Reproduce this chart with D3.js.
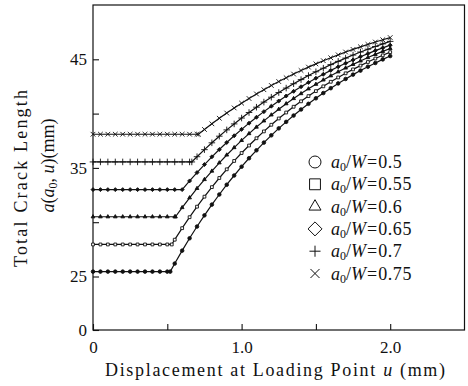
<!DOCTYPE html>
<html>
<head>
<meta charset="utf-8">
<script src="https://cdn.jsdelivr.net/npm/d3@7"></script>
<style>
body{margin:0;background:#fff;}
svg{display:block;font-family:"Liberation Serif","DejaVu Serif",serif;}
</style>
</head>
<body>
<div id="chart"></div>
<script>
// displacement at loading point u (mm), shared by every curve
var uGrid = [0,0.05,0.1,0.15,0.2,0.25,0.3,0.35,0.4,0.45,0.5,0.55,0.6,0.65,0.7,0.75,0.8,0.85,0.9,0.95,
             1,1.05,1.1,1.15,1.2,1.25,1.3,1.35,1.4,1.45,1.5,1.55,1.6,1.65,1.7,1.75,1.8,1.85,1.9,1.95,2];

var ratios = ["0.5","0.55","0.6","0.65","0.7","0.75"];
// u where each crack starts to grow
var kneeU  = [0.52,0.53,0.555,0.60,0.665,0.71];

// total crack length a(a0,u) in mm on uGrid
var crack050 = [25.45,25.45,25.45,25.45,25.45,25.45,25.45,25.45,25.45,25.45,25.45,
  26.19,27.38,28.52,29.60,30.63,31.62,32.55,33.45,34.30,35.11,35.89,36.62,37.33,38.00,
  38.64,39.24,39.82,40.38,40.90,41.41,41.89,42.34,42.78,43.19,43.59,43.96,44.32,44.66,44.99,45.30];
var crack055 = [27.95,27.95,27.95,27.95,27.95,27.95,27.95,27.95,27.95,27.95,27.95,
  28.39,29.45,30.46,31.43,32.35,33.23,34.07,34.87,35.64,36.37,37.06,37.73,38.36,38.97,
  39.55,40.10,40.63,41.13,41.61,42.07,42.51,42.93,43.33,43.71,44.07,44.42,44.75,45.07,45.37,45.66];
var crack060 = [30.5,30.5,30.5,30.5,30.5,30.5,30.5,30.5,30.5,30.5,30.5,30.5,
  31.35,32.25,33.11,33.93,34.71,35.47,36.19,36.87,37.53,38.16,38.76,39.33,39.88,
  40.40,40.91,41.39,41.84,42.28,42.70,43.10,43.48,43.85,44.20,44.53,44.85,45.16,45.45,45.73,46.00];
var crack065 = [33.0,33.0,33.0,33.0,33.0,33.0,33.0,33.0,33.0,33.0,33.0,33.0,33.0,
  33.80,34.57,35.31,36.02,36.69,37.34,37.96,38.55,39.12,39.66,40.18,40.68,
  41.16,41.62,42.05,42.47,42.87,43.26,43.62,43.98,44.31,44.64,44.94,45.24,45.52,45.80,46.05,46.30];
var crack070 = [35.55,35.55,35.55,35.55,35.55,35.55,35.55,35.55,35.55,35.55,35.55,35.55,35.55,35.55,
  36.03,36.68,37.31,37.92,38.50,39.05,39.59,40.10,40.59,41.06,41.51,
  41.94,42.35,42.75,43.13,43.50,43.85,44.18,44.51,44.81,45.11,45.39,45.67,45.93,46.18,46.42,46.65];
var crack075 = [38.1,38.1,38.1,38.1,38.1,38.1,38.1,38.1,38.1,38.1,38.1,38.1,38.1,38.1,38.1,
  38.54,39.06,39.57,40.05,40.52,40.96,41.39,41.81,42.20,42.59,
  42.95,43.30,43.64,43.97,44.28,44.58,44.87,45.14,45.41,45.67,45.91,46.15,46.37,46.59,46.80,47.00];

var xTicks = [0,0.5,1,1.5,2],   xLabels = {0:"0",1:"1.0",2:"2.0"};
var yTicks = [0,25,30,35,40,45], yLabels = {0:"0",25:"25",35:"35",45:"45"};

var series = [crack050,crack055,crack060,crack065,crack070,crack075];
var shapes = [d3.symbolCircle,d3.symbolSquare2,d3.symbolTriangle2,d3.symbolDiamond2,d3.symbolPlus,d3.symbolX];
var markFill = ["#111","#fff","#111","#111","none","none"];
var legendSize = [113,150,103,125,42,55];

var width = 468, height = 386;
var svg = d3.select("#chart").append("svg")
    .attr("width", width).attr("height", height);

var x = d3.scaleLinear().domain([0,2.5]).range([93,464.5]);
// broken axis: 0..25 squeezed at the bottom
var y = d3.scaleLinear().domain([0,25,50]).range([330,276.5,5]);

// frame
svg.append("rect")
    .attr("x", x(0)).attr("y", y(50))
    .attr("width", x(2.5)-x(0)).attr("height", y(0)-y(50))
    .attr("fill","none").attr("stroke","#111").attr("stroke-width",1.2);

var xAxis = svg.append("g")
    .attr("transform","translate(0,"+y(0)+")")
    .call(d3.axisBottom(x).tickValues(xTicks)
      .tickSizeInner(-6).tickSizeOuter(0).tickPadding(11)
      .tickFormat(function(d){ return xLabels[d] || ""; }));
var yAxis = svg.append("g")
    .attr("transform","translate("+x(0)+",0)")
    .call(d3.axisLeft(y).tickValues(yTicks)
      .tickSizeInner(-6).tickSizeOuter(0).tickPadding(6)
      .tickFormat(function(d){ return yLabels[d] || ""; }));
[xAxis,yAxis].forEach(function(g){
  g.select(".domain").remove();
  g.selectAll("line").attr("stroke","#111").attr("stroke-width",1.1);
  g.selectAll("text").attr("font-family","Liberation Serif").attr("font-size",17).attr("fill","#111");
});

var line = d3.line()
    .x(function(d){ return x(d[0]); })
    .y(function(d){ return y(d[1]); });

series.forEach(function(vals,i){
  var pts = uGrid.map(function(u,j){ return [u, vals[j]]; });
  if (uGrid.indexOf(kneeU[i]) < 0) pts.push([kneeU[i], vals[0]]);
  pts.sort(function(a,b){ return a[0]-b[0]; });

  svg.append("path")
      .datum(pts)
      .attr("d", line)
      .attr("fill","none").attr("stroke","#111").attr("stroke-width",1.2);

  svg.append("g").selectAll("path")
    .data(pts)
    .enter().append("path")
      .attr("transform", function(d){ return "translate("+x(d[0])+","+y(d[1])+")"; })
      .attr("d", d3.symbol().type(shapes[i]).size(i<4 ? 10 : 16))
      .attr("fill", markFill[i])
      .attr("stroke","#111").attr("stroke-width",0.9);
});

// legend
var legend = svg.append("g").attr("font-size",18).attr("fill","#111");
ratios.forEach(function(r,i){
  var cy = 162 + i*22.3;
  legend.append("path")
      .attr("transform","translate(315,"+cy+")")
      .attr("d", d3.symbol().type(shapes[i]).size(legendSize[i]))
      .attr("fill","none").attr("stroke","#111").attr("stroke-width",1);
  var t = legend.append("text").attr("x",331).attr("y",cy+6);
  t.append("tspan").attr("font-style","italic").text("a");
  t.append("tspan").attr("font-size",12).attr("dy",3).text("0");
  t.append("tspan").attr("dy",-3).text("/");
  t.append("tspan").attr("font-style","italic").text("W");
  t.append("tspan").attr("dx",1).text("=");
  t.append("tspan").attr("dx",1).attr("letter-spacing",0.6).text(r);
});

// axis titles
svg.append("text")
    .attr("x",275).attr("y",376)
    .attr("text-anchor","middle").attr("font-size",18).attr("fill","#111")
    .attr("textLength",340).attr("lengthAdjust","spacing")
    .call(function(t){
      t.append("tspan").text("Displacement at Loading Point ");
      t.append("tspan").attr("font-style","italic").text("u");
      t.append("tspan").text(" (mm)");
    });

svg.append("text")
    .attr("transform","translate(27,178.5) rotate(-90)")
    .attr("text-anchor","middle").attr("font-size",18).attr("fill","#111")
    .attr("textLength",177).attr("lengthAdjust","spacing")
    .text("Total Crack Length");

svg.append("text")
    .attr("transform","translate(54,165.5) rotate(-90)")
    .attr("text-anchor","middle").attr("font-size",18).attr("fill","#111")
    .call(function(t){
      t.append("tspan").attr("font-style","italic").text("a");
      t.append("tspan").text("(");
      t.append("tspan").attr("font-style","italic").text("a");
      t.append("tspan").attr("font-size",12).attr("dy",3).text("0");
      t.append("tspan").attr("dy",-3).text(", ");
      t.append("tspan").attr("font-style","italic").text("u");
      t.append("tspan").text(")(mm)");
    });
</script>
</body>
</html>
